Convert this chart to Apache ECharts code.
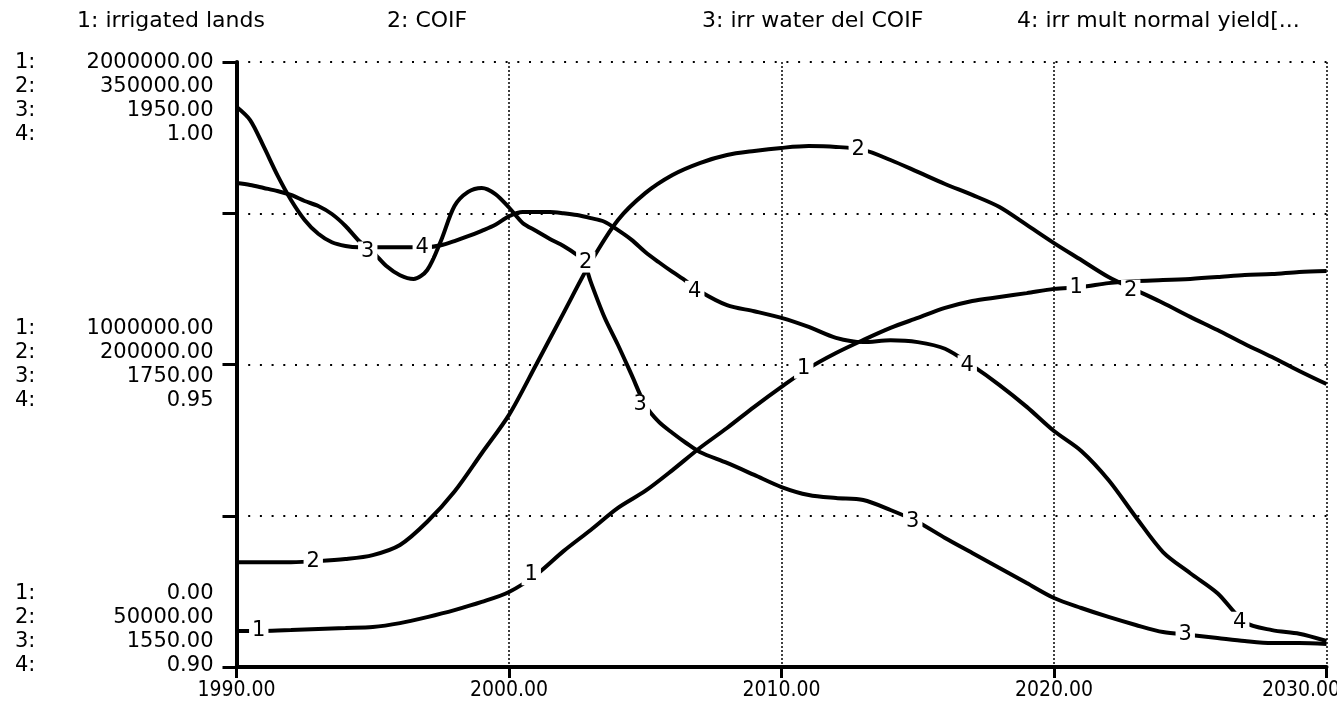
<!DOCTYPE html>
<html><head><meta charset="utf-8">
<script src="https://cdn.jsdelivr.net/npm/echarts@6/dist/echarts.min.js"></script>
<style>html,body{margin:0;padding:0;background:#fff}#c{width:1337px;height:709px}</style>
</head><body><div id="c"></div>
<script>
// ---------- data ----------
const SERIES_NAMES = ['1: irrigated lands', '2: COIF', '3: irr water del COIF', '4: irr mult normal yield[...'];
const SERIES_NUMBERS = ['1', '2', '3', '4'];
const AXIS_PREFIX = ['1:', '2:', '3:', '4:'];
const X_TICK_LABELS = ['1990.00', '2000.00', '2010.00', '2020.00', '2030.00'];
const Y_TICK_LABELS_TOP = ['2000000.00', '350000.00', '1950.00', '1.00'];
const Y_TICK_LABELS_MID = ['1000000.00', '200000.00', '1750.00', '0.95'];
const Y_TICK_LABELS_BOT = ['0.00', '50000.00', '1550.00', '0.90'];
const Y_MIN = [0, 50000, 1550, 0.90];
const Y_MAX = [2000000, 350000, 1950, 1.00];

const YEARS = [1990,1991,1992,1993,1994,1995,1996,1997,1998,1999,2000,2001,2002,2003,2004,2005,2006,2007,2008,2009,2010,
  2011,2012,2013,2014,2015,2016,2017,2018,2019,2020,2021,2022,2023,2024,2025,2026,2027,2028,2029,2030];
const IRRIGATED_LANDS = [119000,119000,122000,126000,129000,132000,145000,165000,188000,215000,248000,
  305000,383000,453000,526000,582000,651000,724000,790000,860000,926000,
  988000,1038000,1081000,1121000,1154000,1187000,1210000,1223000,1236000,1250000,
  1256000,1269000,1276000,1279000,1283000,1289000,1296000,1299000,1306000,1309000];
const COIF = [102000,102000,102000,102500,103500,105500,110500,122000,137000,156000,175000,
  200000,225500,250800,271700,285000,294000,299900,303900,305900,307400,
  308300,307900,306400,301400,295500,289500,284100,278100,269200,260200,
  251800,243400,236900,230500,223600,217100,210200,203700,196800,190300];

const WATER_YEARS = [1990,1990.5,1991,1991.5,1992,1992.5,1993,1993.5,1994,1994.5,1995,1995.5,1996,1996.5,1997,1997.5,
  1998,1998.5,1999,1999.5,2000,2000.5,2001,2001.5,2002,2002.5,2002.75,2003,2003.5,2004,2004.5,2005,2005.5,2006,2006.5,2007,
  2008,2009,2010,2011,2012,2013,2014,2015,2016,2017,2018,2019,2020,2021,2022,2023,2024,2025,2026,2027,2028,2029,2030];
const IRR_WATER_DEL = [1870,1868.7,1866.7,1864.7,1862.1,1858.1,1854.8,1849.5,1841.6,1831.7,1824.4,1815.1,1809,1806.5,1812.5,1831.7,
  1854.8,1864.1,1866.7,1862.7,1853.8,1843.6,1838.3,1833.0,1828.4,1822.4,1817.8,1804.6,1781.4,1762.9,1743.1,1723.2,1712.0,1704.7,1698.1,1692.2,
  1684.9,1677.0,1669.0,1663.7,1661.7,1660.4,1653.8,1645.9,1635.3,1625.4,1615.5,1605.5,1595.6,1589.0,1583.1,1577.8,1573.1,1571.2,1569.2,1567.2,1565.9,1565.9,1565.2];

const YIELD_YEARS = [1990,1990.5,1991,1991.5,1992,1992.5,1993,1993.5,1994,1994.5,1995,1995.5,1996,1996.5,1997,1997.5,
  1998,1998.5,1999,1999.5,2000,2000.5,2001,2001.5,2002,2002.5,2003,2003.5,2004,2004.5,2005,2005.5,2006,2006.5,2007,
  2008,2009,2010,2011,2012,2013,2014,2015,2016,2017,2018,2019,2020,2021,2022,2023,2024,2025,2026,2027,2028,2029,2030];
const IRR_MULT_YIELD = [0.9926,0.9904,0.9860,0.9813,0.9772,0.9739,0.9716,0.9702,0.9696,0.9694,0.9694,0.9694,0.9694,0.9694,0.9694,0.9697,
  0.9704,0.9712,0.9721,0.9731,0.9745,0.9752,0.9752,0.9752,0.9750,0.9747,0.9742,0.9736,0.9722,0.9706,0.9686,0.9669,0.9653,0.9638,0.9621,
  0.9598,0.9588,0.9577,0.9562,0.9544,0.9537,0.9540,0.9537,0.9526,0.9498,0.9466,0.9430,0.9390,0.9357,0.9309,0.9248,0.9190,0.9155,0.9122,0.9074,0.9061,0.9055,0.9043];

// years at which the series number is written on the curve
const LABEL_YEARS = [[1991,2001,2011,2021],[1993,2003,2013,2023],[1995,2005,2015,2025],[1997,2007,2017,2027]];

// ---------- chart ----------
const FONT = 'DejaVu Sans';
const XFONT = '"DejaVu Sans Condensed", "Liberation Sans Narrow", "DejaVu Sans"';
const SERIES_X = [YEARS, YEARS, WATER_YEARS, YIELD_YEARS];
const SERIES_Y = [IRRIGATED_LANDS, COIF, IRR_WATER_DEL, IRR_MULT_YIELD];
const pairs = (xs, ys) => xs.map((x, i) => [x, ys[i]]);

const chart = echarts.init(document.getElementById('c'), null, {renderer: 'canvas'});

const lineSeries = SERIES_Y.map((ys, i) => ({
  type: 'line', name: SERIES_NAMES[i], yAxisIndex: i,
  data: pairs(SERIES_X[i], ys),
  showSymbol: false, symbol: 'none', smooth: 0.3,
  lineStyle: {color: '#000', width: 4},
  z: 3, animation: false
}));

const labelSeries = SERIES_Y.map((ys, i) => ({
  type: 'scatter', yAxisIndex: i,
  data: LABEL_YEARS[i].map(yr => [yr, ys[SERIES_X[i].indexOf(yr)]]),
  symbolSize: 1, itemStyle: {color: '#fff', opacity: 1},
  label: {show: true, position: 'inside', formatter: SERIES_NUMBERS[i], offset: [-5, 0],
    color: '#000', opacity: 1, textBorderWidth: 0, fontFamily: FONT, fontSize: 21,
    backgroundColor: '#fff', padding: [0, 3, 0, 3]},
  emphasis: {disabled: true},
  z: 10, animation: false, silent: true
}));

const yAxes = Y_MIN.map((mn, i) => ({
  type: 'value', min: mn, max: Y_MAX[i], interval: (Y_MAX[i] - mn) / 4,
  show: i === 0,
  axisLine: {show: true, lineStyle: {color: '#000', width: 4}},
  axisTick: {show: true, length: 14, lineStyle: {color: '#000', width: 3}},
  axisLabel: {show: false},
  splitLine: {show: i === 0, lineStyle: {color: '#000', width: 2, type: [2, 9.7]}}
}));

const lastTick = X_TICK_LABELS.length - 1;
chart.setOption({
  backgroundColor: '#fff',
  animation: false,
  grid: {left: 236.5, right: 10.5, top: 62, bottom: 42, containLabel: false, outerBoundsMode: 'none'},
  xAxis: {
    type: 'value', min: 1990, max: 2030, interval: 10,
    axisLine: {lineStyle: {color: '#000', width: 4}},
    axisTick: {length: 11, lineStyle: {color: '#000', width: 3}},
    axisLabel: {
      formatter: v => {
        const k = Math.round((v - 1990) / 10);
        return k === lastTick ? '{last|' + X_TICK_LABELS[k] + '}' : X_TICK_LABELS[k];
      },
      color: '#000', fontFamily: XFONT, fontSize: 21, margin: 13,
      rich: {last: {color: '#000', fontFamily: XFONT, fontSize: 21, padding: [0, 51, 0, 0]}}
    },
    splitLine: {show: true, lineStyle: {color: '#000', width: 1.5, type: [2, 2]}}
  },
  yAxis: yAxes,
  series: lineSeries.concat(labelSeries)
});

// axis value labels and header, placed via the chart's own scales
const axisX = chart.convertToPixel({xAxisIndex: 0}, 1990);
const yTop = chart.convertToPixel({yAxisIndex: 0}, Y_MAX[0]);
const yMid = chart.convertToPixel({yAxisIndex: 0}, (Y_MAX[0] + Y_MIN[0]) / 2);
const yBot = chart.convertToPixel({yAxisIndex: 0}, Y_MIN[0]);
const ROW = 24;
const graphics = [];
const txt = (x, y, text, align) => ({type: 'text', x, y, silent: true,
  style: {text, fill: '#000', font: '21px "' + FONT + '"', textAlign: align, textVerticalAlign: 'middle'}});
const groups = [
  [Y_TICK_LABELS_TOP, i => yTop + 1 + i * ROW],
  [Y_TICK_LABELS_MID, i => yMid + (i - 1.5) * ROW],
  [Y_TICK_LABELS_BOT, i => yBot - 1 - (3 - i) * ROW]
];
groups.forEach(([labels, yf]) => {
  labels.forEach((lab, i) => {
    graphics.push(txt(15, yf(i), AXIS_PREFIX[i], 'left'));
    graphics.push(txt(axisX - 23, yf(i), lab, 'right'));
  });
});
const HEADER_X = [77, 387, 702, 1017];
SERIES_NAMES.forEach((n, i) => {
  graphics.push({type: 'text', x: HEADER_X[i], y: 21, silent: true,
    style: {text: n, fill: '#000', font: '22px "' + FONT + '"', textAlign: 'left', textVerticalAlign: 'middle'}});
});
chart.setOption({graphic: graphics});
</script>
</body></html>
